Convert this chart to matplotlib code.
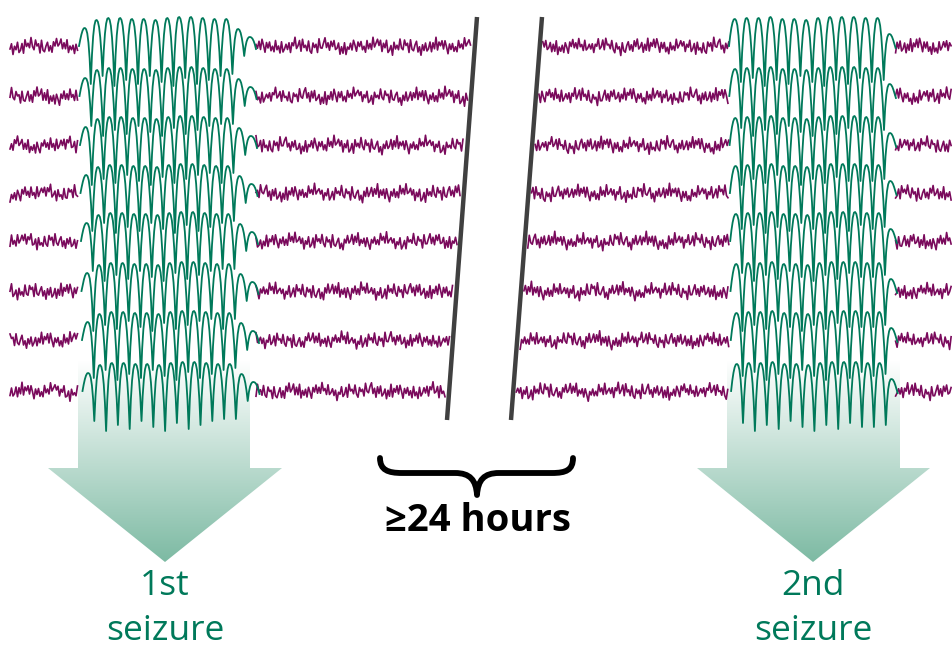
import numpy as np
import matplotlib.pyplot as plt
from matplotlib.path import Path
from matplotlib.patches import PathPatch, Polygon

plt.rcParams['font.family'] = ['Open Sans', 'DejaVu Sans']

PURPLE = '#7a0a5c'
GREEN = '#00795a'
LINE_GREY = '#404040'

# channel baselines (pixel rows of the picture)
baselines = [46, 96, 145, 193, 241, 291, 340, 391]

# hand typed background EEG wiggle (fast and slow parts)
noise_fast = [0.2, -0.5, 0.8, -0.3, 0.1, -0.9, 0.6, 0.3, -0.4, 0.9, -0.7, 0.2, -0.1, 0.5,
              -0.8, 0.4, 0.7, -0.6, 0.0, -0.3, 0.8, -0.9, 0.3, 0.5, -0.2, -0.7, 0.6, -0.1,
              0.9, -0.5, 0.2, -0.8, 0.4, 0.1, -0.6, 0.7, -0.3, 0.5, -0.9, 0.8, -0.2, 0.3,
              -0.5, 0.6, -0.7, 0.1, 0.9, -0.4, 0.2, -0.6, 0.5, -0.1, 0.7, -0.8, 0.3, -0.2,
              0.6, -0.9, 0.4, 0.0, -0.5]
noise_slow = [0.3, 0.5, 0.6, 0.4, 0.1, -0.2, -0.4, -0.5, -0.3, 0.0, 0.2, 0.4, 0.3, 0.1,
              -0.1, -0.3, -0.6, -0.5, -0.2, 0.1, 0.3, 0.6, 0.7, 0.5, 0.2, -0.1, -0.3, -0.2,
              0.0, 0.2, 0.1, -0.2, -0.4, -0.6, -0.4, -0.1, 0.2, 0.4, 0.5, 0.3, 0.0, -0.2,
              -0.3, -0.1, 0.1, 0.2, 0.1]

# spike-wave arch: shape of one cycle, height above baseline, depth of cusps below
arch_shape = [0.0, 0.45, 0.74, 0.91, 0.99, 1.0, 0.97, 0.88, 0.7, 0.42, 0.0]
tops_1 = [18, 26, 28, 28, 27, 27, 26, 28, 29, 29, 28, 27, 27, 17, 9]
cusps_1 = [0, 38, 30, 40, 34, 38, 30, 36, 40, 32, 38, 34, 30, 28, 10, 3]
tops_2 = [27, 28, 28, 29, 27, 27, 26, 28, 29, 29, 29, 28, 28, 12]
cusps_2 = [0, 36, 32, 40, 34, 38, 30, 36, 40, 34, 38, 32, 36, 34, 2]

# horizontal layout (pixels)
trace_start, trace_end = 10, 952
seiz1_x0, seiz1_period = 79, 11.8
seiz2_x0, seiz2_period = 729, 11.9
break_left = [(477, 17), (447, 420)]
break_right = [(542, 17), (511, 420)]


def wiggle(x0, x1, row, offset):
    xs = np.arange(x0, x1, 1.5)
    ys = [noise_fast[(i + 13 * row + offset) % len(noise_fast)] * 7.5
          + noise_slow[(i // 2 + 7 * row + offset) % len(noise_slow)] * 5
          for i in range(len(xs))]
    return xs, np.array(ys)


def seizure(x0, period, tops, cusps, row):
    xs, ys = [], []
    k_shift = row % 3
    for k, top in enumerate(tops):
        c0 = cusps[k] if k == 0 else cusps[1 + (k - 1 + k_shift) % (len(cusps) - 3)] if k < len(tops) - 2 else cusps[k]
        c1 = cusps[1 + (k + k_shift) % (len(cusps) - 3)] if k < len(tops) - 3 else cusps[k + 1]
        n = len(arch_shape)
        for j, p in enumerate(arch_shape):
            t = j / (n - 1)
            bottom = c0 * (1 - t) + c1 * t
            xs.append(x0 + period * (k + t))
            ys.append(bottom - (bottom + top) * p)
    return np.array(xs), np.array(ys)


def line_x(line, y):
    (xa, ya), (xb, yb) = line
    return xa + (xb - xa) * (y - ya) / (yb - ya)


fig = plt.figure(figsize=(9.53, 6.5), dpi=100)
ax = fig.add_axes([0, 0, 1, 1])
ax.set_xlim(0, 953)
ax.set_ylim(650, 0)
ax.axis('off')

# gradient arrows under the seizures
grad = np.linspace(0, 1, 200)[:, None]
top_col = np.array([1.0, 1.0, 1.0])
bot_col = np.array([0.49, 0.73, 0.64])
img = (top_col + (bot_col - top_col) * grad)[:, :, None].transpose(0, 2, 1)
img = np.repeat(img, 2, axis=1)
for shaft_l, shaft_r, head_l, head_r, tip in [(78, 250, 48, 282, 165), (727, 900, 697, 930, 813)]:
    arrow = Polygon([(shaft_l, 360), (shaft_r, 360), (shaft_r, 468), (head_r, 468),
                     (tip, 562), (head_l, 468), (shaft_l, 468)], closed=True,
                    facecolor='none', edgecolor='none')
    ax.add_patch(arrow)
    im = ax.imshow(img, extent=(head_l, head_r, 562, 360), origin='upper',
                   aspect='auto', zorder=1, interpolation='bilinear')
    im.set_clip_path(arrow)

# background EEG traces
for r, base in enumerate(baselines):
    segments = [(trace_start, seiz1_x0, 0),
                (seiz1_x0 + seiz1_period * len(tops_1), line_x(break_left, base) - 3, 40),
                (line_x(break_right, base) + 3, seiz2_x0, 90),
                (seiz2_x0 + seiz2_period * len(tops_2), trace_end, 150)]
    for x0, x1, off in segments:
        xs, ys = wiggle(x0, x1, r, off)
        ax.plot(xs, base + ys, color=PURPLE, lw=1.2, zorder=2)

    xs, ys = seizure(seiz1_x0 + r * 0.5, seiz1_period, tops_1, cusps_1, r)
    ax.plot(xs, base + ys, color=GREEN, lw=1.3, zorder=3)
    xs, ys = seizure(seiz2_x0 + r * 0.3, seiz2_period, tops_2, cusps_2, r)
    ax.plot(xs, base + ys, color=GREEN, lw=1.3, zorder=3)

# time break lines
for line in (break_left, break_right):
    ax.plot([p[0] for p in line], [p[1] for p in line], color=LINE_GREY, lw=3.2,
            solid_capstyle='butt', zorder=4)

# curly brace
brace = Path([(380, 458), (380, 470), (388, 473), (402, 473), (455, 473),
              (470, 473), (476, 480), (477, 495),
              (478, 480), (484, 473), (499, 473), (552, 473),
              (566, 473), (573, 470), (573, 458)],
             [Path.MOVETO, Path.CURVE4, Path.CURVE4, Path.CURVE4, Path.LINETO,
              Path.CURVE4, Path.CURVE4, Path.CURVE4,
              Path.CURVE4, Path.CURVE4, Path.CURVE4, Path.LINETO,
              Path.CURVE4, Path.CURVE4, Path.CURVE4])
ax.add_patch(PathPatch(brace, facecolor='none', edgecolor='black', lw=4.2,
                       capstyle='round', joinstyle='round', zorder=4))

ax.text(478, 531, '≥24 hours', ha='center', va='baseline', fontsize=27.5,
        fontweight='bold', color='black')

for cx, label in [(165, '1st'), (813, '2nd')]:
    ax.text(cx, 595, label, ha='center', va='baseline', fontsize=25.5, color=GREEN)
    ax.text(cx, 640, 'seizure', ha='center', va='baseline', fontsize=25.5, color=GREEN)

fig.savefig('out.png', dpi=100)
